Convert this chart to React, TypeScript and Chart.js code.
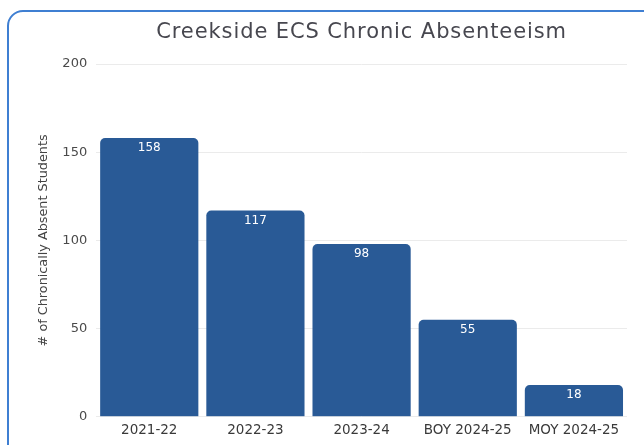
import React, { useEffect, useRef } from "react";
import { Chart, registerables } from "chart.js";

Chart.register(...registerables);

const categories = ["2021-22", "2022-23", "2023-24", "BOY 2024-25", "MOY 2024-25"];
const values = [158, 117, 98, 55, 18];
const yTicks = [0, 50, 100, 150, 200];
const titleText = "Creekside ECS Chronic Absenteeism";
const yAxisTitle = "# of Chronically Absent Students";

const FONT = "'DejaVu Sans', sans-serif";

const titlePlugin = {
  id: "centeredTitle",
  afterDraw(chart: any) {
    const { ctx, chartArea } = chart;
    ctx.save();
    ctx.font = `21px ${FONT}`;
    (ctx as any).letterSpacing = "0.9px";
    ctx.fillStyle = "#47474f";
    ctx.textAlign = "center";
    ctx.textBaseline = "middle";
    ctx.fillText(titleText, (chartArea.left + chartArea.right) / 2, 32.5);
    ctx.restore();
  },
};

const labelPlugin = {
  id: "barLabels",
  afterDatasetsDraw(chart: any) {
    const { ctx } = chart;
    const meta = chart.getDatasetMeta(0);
    ctx.save();
    ctx.font = `12px ${FONT}`;
    ctx.fillStyle = "#ffffff";
    ctx.textAlign = "center";
    ctx.textBaseline = "middle";
    meta.data.forEach((el: any, i: number) => {
      ctx.fillText(String(values[i]), el.x, el.y + 10);
    });
    ctx.restore();
  },
};

export default function App() {
  const ref = useRef<HTMLCanvasElement>(null);

  useEffect(() => {
    if (!ref.current) return;
    const chart = new Chart(ref.current, {
      type: "bar",
      data: {
        labels: categories,
        datasets: [
          {
            data: values,
            backgroundColor: "#295a96",
            borderRadius: 5,
            borderSkipped: "bottom",
            barPercentage: 0.925,
            categoryPercentage: 1,
          },
        ],
      },
      options: {
        responsive: false,
        animation: false,
        devicePixelRatio: 1,
        layout: { padding: { left: 36, top: 64, right: 17, bottom: 0 } },
        plugins: {
          legend: { display: false },
          title: { display: false },
          tooltip: { enabled: false },
        },
        scales: {
          x: {
            grid: { display: false, drawTicks: false },
            border: { display: false },
            ticks: {
              color: "#3a3a3a",
              padding: 6,
              font: { family: FONT, size: 13.5 },
              maxRotation: 0,
              autoSkip: false,
            },
          },
          y: {
            min: 0,
            max: 200,
            afterBuildTicks: (axis: any) => {
              axis.ticks = yTicks.map((v) => ({ value: v }));
            },
            grid: { color: "#ebebeb", drawTicks: false },
            border: { display: false },
            ticks: {
              color: "#4a4a4a",
              padding: 9,
              font: { family: FONT, size: 13 },
            },
            title: {
              display: true,
              text: yAxisTitle,
              color: "#444444",
              font: { family: FONT, size: 12.8 },
              padding: { top: 0, bottom: 2 },
            },
          },
        },
      },
      plugins: [titlePlugin, labelPlugin],
    });
    return () => chart.destroy();
  }, []);

  return (
    <div
      style={{
        position: "fixed",
        left: 0,
        top: 0,
        width: 644,
        height: 445,
        overflow: "hidden",
        background: "#ffffff",
      }}
    >
      <div
        style={{
          position: "absolute",
          left: 7,
          top: 10,
          width: 680,
          height: 480,
          border: "2px solid #3f7fd2",
          borderRadius: 16,
          boxSizing: "border-box",
        }}
      />
      <canvas
        ref={ref}
        width={644}
        height={445}
        style={{ position: "absolute", left: 0, top: 0, width: 644, height: 445 }}
      />
    </div>
  );
}
